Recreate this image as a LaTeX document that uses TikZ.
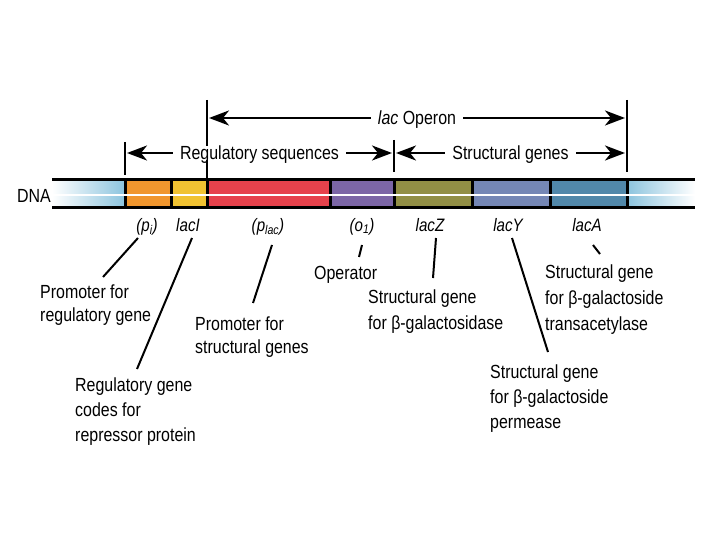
\documentclass[tikz,border=0pt]{standalone}
\usepackage{fontspec}
\setmainfont{Liberation Sans}[FakeStretch=0.84]
\usetikzlibrary{arrows.meta}
\definecolor{cOrange}{HTML}{F0962E}
\definecolor{cYellow}{HTML}{F0C232}
\definecolor{cRed}{HTML}{E6424C}
\definecolor{cPurple}{HTML}{7C66A6}
\definecolor{cOlive}{HTML}{928F45}
\definecolor{cSlate}{HTML}{7587B5}
\definecolor{cSteel}{HTML}{5188AA}
\definecolor{cLight}{HTML}{8CC4DE}
\begin{document}
\begin{tikzpicture}[x=1pt,y=-1pt,
  span/.style={line width=2.6pt,{Stealth[length=20pt,width=15pt,inset=6pt]}-{Stealth[length=20pt,width=15pt,inset=6pt]}},
  spanlbl/.style={fill=white,font=\fontsize{19}{24}\selectfont,text height=14pt,text depth=0pt,inner ysep=0pt,inner xsep=7pt},
  tickline/.style={line width=2pt},
  sepline/.style={line width=3pt},
  lbl/.style={font=\fontsize{19}{24}\selectfont,inner sep=0pt,align=left,anchor=north west},
  gene/.style={font=\fontsize{18}{22}\selectfont\itshape,inner sep=0pt,anchor=base},
  conn/.style={line width=2pt}]
\useasboundingbox (0,0) rectangle (720,540);
% DNA bar
\shade[left color=white,right color=cLight] (52,180) rectangle (125,208);
\shade[left color=cLight,right color=white] (627,180) rectangle (695,208);
\fill[cOrange] (125,180) rectangle (171,208);
\fill[cYellow] (171,180) rectangle (207,208);
\fill[cRed] (207,180) rectangle (330,208);
\fill[cPurple] (330,180) rectangle (394,208);
\fill[cOlive] (394,180) rectangle (472,208);
\fill[cSlate] (472,180) rectangle (550,208);
\fill[cSteel] (550,180) rectangle (627,208);
\foreach \xx in {125,171,207,330,394,472,550,627}
  \draw[sepline] (\xx,181) -- (\xx,207);
\draw[white,line width=2.5pt] (52,195) -- (695,195);
\draw[sepline] (52,180) -- (695,180);
\draw[sepline] (52,208) -- (695,208);
\node[anchor=base east,inner sep=0pt,font=\fontsize{19}{24}\selectfont] (dna) at (51,203) {DNA};
% ticks
\coordinate (t1a) at (207,100); \coordinate (t1b) at (207,178);
\coordinate (t2a) at (627,100); \coordinate (t2b) at (627,172);
\coordinate (t3a) at (125,142); \coordinate (t3b) at (125,175);
\coordinate (t4a) at (394,140); \coordinate (t4b) at (394,172);
\draw[tickline] (t1a) -- (t1b);
\draw[tickline] (t2a) -- (t2b);
\draw[tickline] (t3a) -- (t3b);
\draw[line width=1.4pt] (t4a) -- (t4b);
% spans
\coordinate (opL) at (209,118); \coordinate (opR) at (625,118);
\coordinate (rgL) at (127,153); \coordinate (rgR) at (392,153);
\coordinate (sgL) at (396,153); \coordinate (sgR) at (625,153);
\draw[span] (opL) -- node[spanlbl] (oplbl) {\textit{lac} Operon} (opR);
\draw[span] (rgL) -- node[spanlbl] (rglbl) {Regulatory sequences} (rgR);
\draw[span] (sgL) -- node[spanlbl] (sglbl) {Structural genes} (sgR);
% gene labels
\node[gene] (gpi) at (147,231) {(p\textsubscript{i})};
\node[gene] (glacI) at (188,231) {lacI};
\node[gene] (gplac) at (268,231) {(p\textsubscript{lac})};
\node[gene] (go) at (362,231) {(o\textsubscript{1})};
\node[gene] (gz) at (430,231) {lacZ};
\node[gene] (gy) at (508,231) {lacY};
\node[gene] (ga) at (587,231) {lacA};
% descriptions
\node[lbl,font=\fontsize{19}{23}\selectfont] (dpi) at (40,285) {Promoter for\\regulatory gene};
\node[lbl,font=\fontsize{19}{25}\selectfont] (dlacI) at (75,378) {Regulatory gene\\codes for\\repressor protein};
\node[lbl,font=\fontsize{19}{23}\selectfont] (dplac) at (195,317) {Promoter for\\structural genes};
\node[lbl] (do) at (314,266) {Operator};
\node[lbl,font=\fontsize{19}{26}\selectfont] (dz) at (368,290) {Structural gene\\for β-galactosidase};
\node[lbl,font=\fontsize{19}{26}\selectfont] (da) at (545,265) {Structural gene\\for β-galactoside\\transacetylase};
\node[lbl,font=\fontsize{19}{25}\selectfont] (dy) at (490,365) {Structural gene\\for β-galactoside\\permease};
% connectors
\coordinate (cpi1) at (138,238); \coordinate (cpi2) at (103,277);
\coordinate (cli1) at (192,238); \coordinate (cli2) at (137,369);
\coordinate (cpl1) at (272,245); \coordinate (cpl2) at (253,303);
\coordinate (co1) at (362,245); \coordinate (co2) at (359,257);
\coordinate (cz1) at (436,238); \coordinate (cz2) at (433,278);
\coordinate (cy1) at (512,238); \coordinate (cy2) at (548,352);
\coordinate (ca1) at (593,245); \coordinate (ca2) at (600,254);
\draw[conn] (cpi1) -- (cpi2);
\draw[conn] (cli1) -- (cli2);
\draw[conn] (cpl1) -- (cpl2);
\draw[conn] (co1) -- (co2);
\draw[conn] (cz1) -- (cz2);
\draw[conn] (cy1) -- (cy2);
\draw[conn] (ca1) -- (ca2);
\end{tikzpicture}
\end{document}
